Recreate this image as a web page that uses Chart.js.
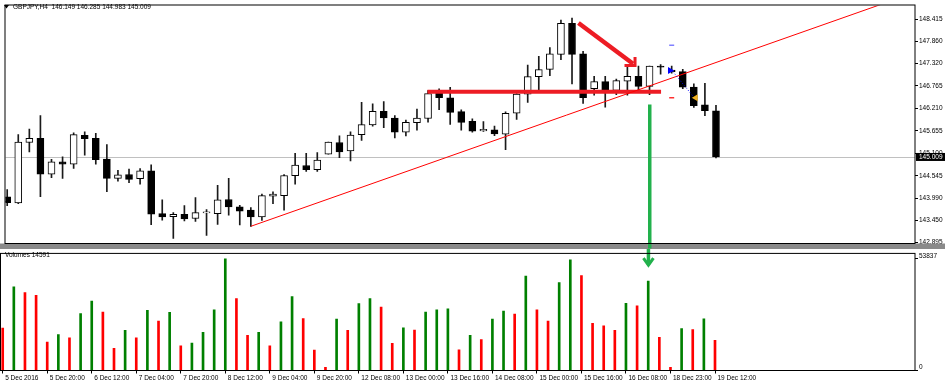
<!DOCTYPE html>
<html>
<head>
<meta charset="utf-8">
<title>GBPJPY,H4</title>
<script src="https://cdn.jsdelivr.net/npm/chart.js@4.4.1/dist/chart.umd.min.js"></script>
<style>
  html, body { margin: 0; padding: 0; background: #fff; }
  #wrap { position: relative; width: 945px; height: 385px; overflow: hidden; background: #fff; }
  #price { position: absolute; left: 0; top: 0; }
  #volume { position: absolute; left: 0; top: 249px; }
</style>
</head>
<body>
<div id="wrap">
  <canvas id="price" width="945" height="249"></canvas>
  <canvas id="volume" width="945" height="136"></canvas>
</div>
<script>
// GBPJPY H4 candles, 5 Dec 2016 04:00 .. 19 Dec 2016 12:00 (65 bars)
const symbol = 'GBPJPY';
const timeframe = 'H4';

const opens = [
  144.023, 143.872, 145.367, 145.470, 144.582, 144.887, 144.832, 145.542, 145.470, 144.959,
  144.479, 144.575, 144.472, 144.664, 143.608, 143.536, 143.591, 143.488, 143.627, 143.608,
  143.958, 143.776, 143.694, 143.526, 144.040, 144.054, 144.544, 144.798, 144.695, 145.079,
  145.367, 145.158, 145.559, 145.799, 146.135, 145.967, 145.624, 145.854, 145.960, 146.579,
  146.471, 146.128, 145.888, 145.655, 145.679, 145.571, 146.094, 146.560, 146.992, 147.174,
  147.544, 148.312, 147.558, 146.694, 146.872, 146.656, 146.879, 146.999, 146.752, 147.239,
  147.155, 147.119, 146.735, 146.296, 146.149
];
const highs = [
  144.203, 145.559, 145.696, 146.032, 144.952, 145.014, 145.607, 145.631, 145.590, 145.312,
  144.678, 144.712, 144.719, 144.815, 143.951, 143.632, 143.807, 144.006, 143.711, 144.311,
  144.479, 143.814, 143.759, 144.095, 144.150, 144.575, 145.096, 145.096, 145.120, 145.374,
  145.528, 145.631, 146.358, 146.320, 146.375, 146.032, 145.919, 146.190, 146.651, 146.694,
  146.728, 146.176, 145.950, 145.883, 145.775, 146.123, 146.574, 147.280, 147.496, 147.712,
  148.391, 148.439, 147.616, 147.000, 147.000, 146.934, 147.280, 147.256, 147.256, 147.294,
  147.256, 147.174, 146.814, 146.831, 146.285
];
const lows = [
  143.807, 143.855, 145.134, 144.030, 144.496, 144.479, 144.726, 145.055, 144.832, 144.150,
  144.414, 144.376, 144.335, 143.334, 143.447, 142.998, 143.430, 143.416, 143.070, 143.344,
  143.574, 143.327, 143.296, 143.440, 143.855, 143.694, 144.335, 144.654, 144.654, 145.079,
  144.990, 144.911, 145.415, 145.768, 145.734, 145.480, 145.528, 145.672, 145.871, 146.176,
  145.816, 145.672, 145.624, 145.643, 145.535, 145.187, 145.936, 146.358, 146.656, 147.016,
  147.414, 146.814, 146.334, 146.536, 146.238, 146.550, 146.536, 146.632, 146.550, 147.054,
  147.078, 146.694, 146.231, 146.032, 144.983
];
const closes = [
  143.879, 145.374, 145.470, 144.582, 144.887, 144.832, 145.559, 145.463, 144.942, 144.479,
  144.568, 144.455, 144.664, 143.598, 143.526, 143.591, 143.478, 143.632, 143.639, 143.951,
  143.776, 143.670, 143.526, 144.054, 144.095, 144.551, 144.808, 144.695, 144.935, 145.374,
  145.134, 145.552, 145.806, 146.135, 145.974, 145.624, 145.864, 145.967, 146.574, 146.471,
  146.111, 145.864, 145.648, 145.691, 145.576, 146.087, 146.560, 146.992, 147.167, 147.558,
  148.312, 147.544, 146.471, 146.872, 146.639, 146.896, 146.999, 146.752, 147.256, 147.227,
  147.119, 146.735, 146.279, 146.152, 145.009
];
const volumes = [
  20384, 40300, 37500, 36255, 13693, 17272, 15716, 27386, 33454, 28164,
  10736, 19294, 15716, 28942, 23807, 28008, 11826, 13226, 18361, 29253,
  53837, 34699, 16960, 18361, 11826, 23496, 35632, 25052, 9803, 1556,
  24740, 19294, 32209, 34699, 30498, 13070, 20539, 19450, 28164, 29253,
  29720, 9958, 16960, 14938, 24740, 28630, 27230, 45435, 29253, 23807,
  42323, 53371, 45746, 22718, 21473, 19294, 32365, 31120, 43101, 16027,
  1556, 20228, 19761, 24896, 14591
];

// time axis labels, one every 4 bars
const tickLabels = [
  '5 Dec 2016', '5 Dec 20:00', '6 Dec 12:00', '7 Dec 04:00', '7 Dec 20:00', '8 Dec 12:00',
  '9 Dec 04:00', '9 Dec 20:00', '12 Dec 08:00', '13 Dec 00:00', '13 Dec 16:00', '14 Dec 08:00',
  '15 Dec 00:00', '15 Dec 16:00', '16 Dec 08:00', '18 Dec 23:00', '19 Dec 12:00'
];
const tickEvery = 4;
const priceTicks = [148.415, 147.860, 147.320, 146.765, 146.210, 145.655, 145.100, 144.545, 143.990, 143.450, 142.895];
const volumeTicks = [0, 53837];

// drawn objects, [bar index, value]
const trendLine = [[22, 143.296], [82, 149.077]];
const levelLine = [[37.95, 146.62], [59.04, 146.62]];
const redArrow = [[51.58, 148.319], [56.51, 147.311]];
const redArrowHead = [[55.74, 147.268], [56.69, 147.268], [56.69, 147.479]];
const greenArrowTop = [[58.02, 146.303], [58.02, 142.0]];
const greenArrowBottom = [[58.02, 70000], [58.02, 50900]];
const greenArrowHead = [[57.57, 54160], [58.02, 50714], [58.47, 54160]];
const takeProfit = [[60, 147.767]];
const stopLoss = [[60, 146.471]];
const orderOpen = [[59.85, 147.143]];
const orderClose = [[62.17, 146.471]];
const orderPath = [[60.1, 147.12], [61.9, 146.52]];

const xMin = -0.153, xMax = 81.97;
const priceMin = 142.871, priceMax = 148.751;
const volMax = 56170;

Chart.defaults.font.family = '"Liberation Sans", Arial, sans-serif';
Chart.defaults.font.size = 6.5;
Chart.defaults.color = '#000';

const bars = opens.map((_, i) => i);
const last = opens.length - 1;
const xy = pts => pts.map(p => ({ x: p[0], y: p[1] }));
const FONT = '6.5px "Liberation Sans", Arial, sans-serif';

function lineSet(pts, color, width, order, extra) {
  return Object.assign({
    type: 'line', data: xy(pts), borderColor: color, borderWidth: width,
    pointRadius: 0, fill: false, tension: 0, order: order, borderCapStyle: 'butt'
  }, extra || {});
}
function markSet(pts, style, color, rot, radius, order) {
  return {
    type: 'scatter', data: xy(pts), pointStyle: style, rotation: rot, pointRadius: radius,
    borderColor: color, backgroundColor: color, borderWidth: 1.5, order: order
  };
}

function frame(chart) {
  const a = chart.chartArea, ctx = chart.ctx;
  ctx.save();
  ctx.strokeStyle = '#000';
  ctx.lineWidth = 1;
  ctx.strokeRect(a.left - 0.5, a.top - 0.5, a.right - a.left + 0.5, a.bottom - a.top + 0.5);
  ctx.restore();
}

const priceDecor = {
  id: 'priceDecor',
  beforeDatasetsDraw(chart) {
    const ctx = chart.ctx, a = chart.chartArea;
    const y = Math.round(chart.scales.y.getPixelForValue(closes[last])) + 0.5;
    ctx.save();
    ctx.strokeStyle = '#c0c0c0';
    ctx.lineWidth = 1;
    ctx.beginPath();
    ctx.moveTo(a.left, y);
    ctx.lineTo(a.right, y);
    ctx.stroke();
    // splitter between the two windows
    ctx.fillStyle = '#8a8a8a';
    ctx.fillRect(0, a.bottom, chart.width, chart.height - a.bottom);
    ctx.restore();
  },
  afterDraw(chart) {
    frame(chart);
    const ctx = chart.ctx, a = chart.chartArea;
    ctx.save();
    ctx.fillStyle = '#000';
    ctx.beginPath();
    ctx.moveTo(4, 5); ctx.lineTo(9, 5); ctx.lineTo(6.5, 8.5); ctx.closePath();
    ctx.fill();
    ctx.font = FONT;
    ctx.textBaseline = 'middle';
    ctx.textAlign = 'left';
    const head = symbol + ',' + timeframe + '  ' +
      [opens[last], highs[last], lows[last], closes[last]].map(v => v.toFixed(3)).join(' ');
    ctx.fillText(head, 13, 7.5);
    // bid label on the price axis
    const y = chart.scales.y.getPixelForValue(closes[last]);
    ctx.fillRect(a.right + 1, y - 4, chart.width - a.right - 1, 8);
    ctx.fillStyle = '#fff';
    ctx.fillText(closes[last].toFixed(3), a.right + 4, y + 0.5);
    ctx.restore();
  }
};

const volumeDecor = {
  id: 'volumeDecor',
  afterDraw(chart) {
    frame(chart);
    const ctx = chart.ctx;
    ctx.save();
    ctx.font = FONT;
    ctx.fillStyle = '#000';
    ctx.textBaseline = 'middle';
    ctx.fillText('Volumes ' + volumes[last], 5, 6.5);
    ctx.restore();
  }
};

const rightAxis = {
  position: 'right',
  grid: { drawOnChartArea: false, drawTicks: true, tickLength: 3, color: '#000' },
  border: { display: false },
  afterFit: s => { s.width = 30; }
};

new Chart(document.getElementById('price'), {
  type: 'bar',
  data: {
    datasets: [
      markSet(takeProfit, 'line', '#8080ff', 0, 2.5, 0),
      markSet(stopLoss, 'line', '#ff3030', 0, 2.5, 0),
      markSet(orderOpen, 'triangle', '#0000ff', 90, 2.5, 0),
      markSet(orderClose, 'triangle', '#f0b020', -90, 2.5, 0),
      lineSet(orderPath, '#0000ff', 1, 1, { borderDash: [1, 2] }),
      lineSet(trendLine, '#ff0000', 1, 2),
      lineSet(levelLine, '#ed1c24', 4, 2),
      lineSet(redArrow, '#ed1c24', 4.5, 2),
      lineSet(redArrowHead, '#ed1c24', 3, 2, { borderJoinStyle: 'miter' }),
      lineSet(greenArrowTop, '#22b14c', 3.5, 2, { clip: { left: 0, top: 0, right: 0, bottom: 5 } }),
      {
        label: 'bodies',
        data: bars.map(i => ({ x: i, y: [opens[i], closes[i]] })),
        backgroundColor: bars.map(i => closes[i] >= opens[i] ? '#fff' : '#000'),
        borderColor: '#000',
        borderWidth: 1,
        borderSkipped: false,
        barThickness: 7,
        minBarLength: 1,
        grouped: false,
        order: 10
      },
      {
        label: 'wicks',
        data: bars.map(i => ({ x: i, y: [lows[i], highs[i]] })),
        backgroundColor: '#1a1a1a',
        borderWidth: 0,
        barThickness: 1,
        grouped: false,
        order: 11
      }
    ]
  },
  options: {
    responsive: false,
    animation: false,
    events: [],
    layout: { padding: { left: 1, top: 1, right: 0, bottom: 3 } },
    plugins: { legend: { display: false }, tooltip: { enabled: false } },
    scales: {
      x: { type: 'linear', min: xMin, max: xMax, offset: false, display: false },
      y: Object.assign({}, rightAxis, {
        type: 'linear', min: priceMin, max: priceMax,
        afterBuildTicks: s => { s.ticks = priceTicks.map(v => ({ value: v })); },
        ticks: { padding: 1, callback: v => v.toFixed(3) }
      })
    }
  },
  plugins: [priceDecor]
});

new Chart(document.getElementById('volume'), {
  type: 'bar',
  data: {
    datasets: [
      lineSet(greenArrowBottom, '#22b14c', 3.5, 0, { clip: false }),
      lineSet(greenArrowHead, '#22b14c', 3, 0, { borderJoinStyle: 'miter' }),
      {
        label: 'Volumes',
        data: bars.map(i => ({ x: i, y: volumes[i] })),
        backgroundColor: bars.map(i => i > 0 && volumes[i] > volumes[i - 1] ? '#008000' : '#ff0000'),
        borderWidth: 0,
        barThickness: 2,
        grouped: false,
        order: 5
      }
    ]
  },
  options: {
    responsive: false,
    animation: false,
    events: [],
    layout: { padding: { left: 1, top: 1, right: 0, bottom: 0 } },
    plugins: { legend: { display: false }, tooltip: { enabled: false } },
    scales: {
      x: {
        type: 'linear', min: xMin, max: xMax, offset: false,
        grid: { offset: false, drawOnChartArea: false, drawTicks: true, tickLength: 3, color: '#000' },
        border: { display: false },
        afterBuildTicks: s => { s.ticks = tickLabels.map((_, k) => ({ value: k * tickEvery })); },
        afterFit: s => { s.height = 14.5; },
        ticks: {
          align: 'start', maxRotation: 0, autoSkip: false, padding: 1, labelOffset: 2.5,
          callback: v => tickLabels[Math.round(v / tickEvery)]
        }
      },
      y: Object.assign({}, rightAxis, {
        type: 'linear', min: 0, max: volMax,
        afterBuildTicks: s => { s.ticks = volumeTicks.map(v => ({ value: v })); },
        ticks: { padding: 1, labelOffset: -3, callback: v => String(v) }
      })
    }
  },
  plugins: [volumeDecor]
});
</script>
</body>
</html>
